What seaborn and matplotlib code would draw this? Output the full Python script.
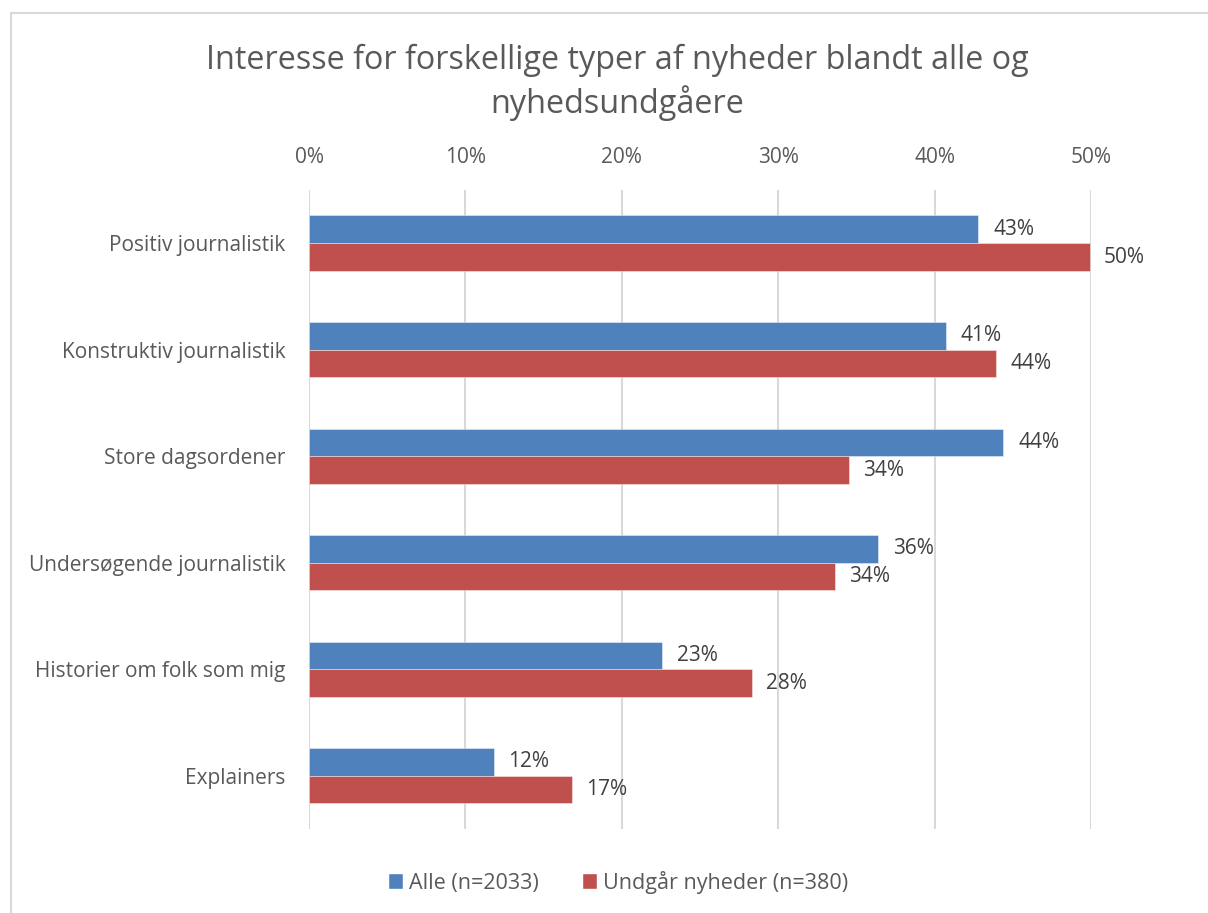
import matplotlib
matplotlib.use("Agg")
import matplotlib.pyplot as plt
import seaborn as sns
import pandas as pd
from matplotlib.patches import Rectangle

categories = ["Positiv journalistik", "Konstruktiv journalistik", "Store dagsordener",
              "Undersøgende journalistik", "Historier om folk som mig", "Explainers"]
series_names = ["Alle (n=2033)", "Undgår nyheder (n=380)"]
alle = [42.8, 40.7, 44.4, 36.4, 22.6, 11.8]
undgaar = [49.9, 43.9, 34.5, 33.6, 28.3, 16.8]
colors = ["#4F81BD", "#C0504D"]

sns.set_style("white")
plt.rcParams['font.family'] = ['Open Sans', 'DejaVu Sans']
text_color = "#595959"

df = pd.DataFrame({
    "category": categories * 2,
    "value": alle + undgaar,
    "series": [series_names[0]] * len(categories) + [series_names[1]] * len(categories),
})

fig = plt.figure(figsize=(12.08, 9.13), dpi=100)
ax = fig.add_axes([0.2558, 0.092, 0.6474, 0.7])

sns.barplot(data=df, y="category", x="value", hue="series", order=categories,
            hue_order=series_names, palette=colors, orient="h", width=0.52,
            saturation=1, ax=ax, legend=True)

for cont in ax.containers:
    for p in cont:
        p.set_edgecolor((1, 1, 1, 0.5))
        p.set_linewidth(0.6)
    ax.bar_label(cont, labels=[f"{round(v)}%" for v in cont.datavalues],
                 padding=10.5, fontsize=15, color="#404040")

ax.set_xlim(0, 50)
ax.set_ylim(5.5, -0.5)
ax.set_xticks(range(0, 51, 10))
ax.set_xticklabels([f"{t}%" for t in range(0, 51, 10)])
ax.xaxis.tick_top()
ax.tick_params(axis="x", length=0, pad=16, labelsize=15, labelcolor=text_color)
ax.tick_params(axis="y", length=0, pad=17, labelsize=15, labelcolor=text_color)
ax.grid(axis="x", color="#D9D9D9", linewidth=1.5)
ax.set_axisbelow(True)
for s in ax.spines.values():
    s.set_visible(False)
ax.set_xlabel("")
ax.set_ylabel("")

fig.text(617 / 1208, 1 - 82 / 913,
         "Interesse for forskellige typer af nyheder blandt alle og\nnyhedsundgåere",
         ha="center", va="center", fontsize=23.3, color=text_color, linespacing=1.3)

leg = ax.legend(loc="center", bbox_to_anchor=(618 / 1208, 1 - 882 / 913),
                bbox_transform=fig.transFigure, ncol=2, frameon=False,
                fontsize=15.5, handlelength=0.7, handleheight=0.7,
                handletextpad=0.3, columnspacing=2.0)
for t in leg.get_texts():
    t.set_color(text_color)

fig.patches.append(Rectangle((11 / 1208, -0.1), 1.5, 1 - 13 / 913 + 0.1,
                             transform=fig.transFigure, fill=False,
                             edgecolor="#D9D9D9", linewidth=1.5))

fig.savefig("out.png", dpi=100)
